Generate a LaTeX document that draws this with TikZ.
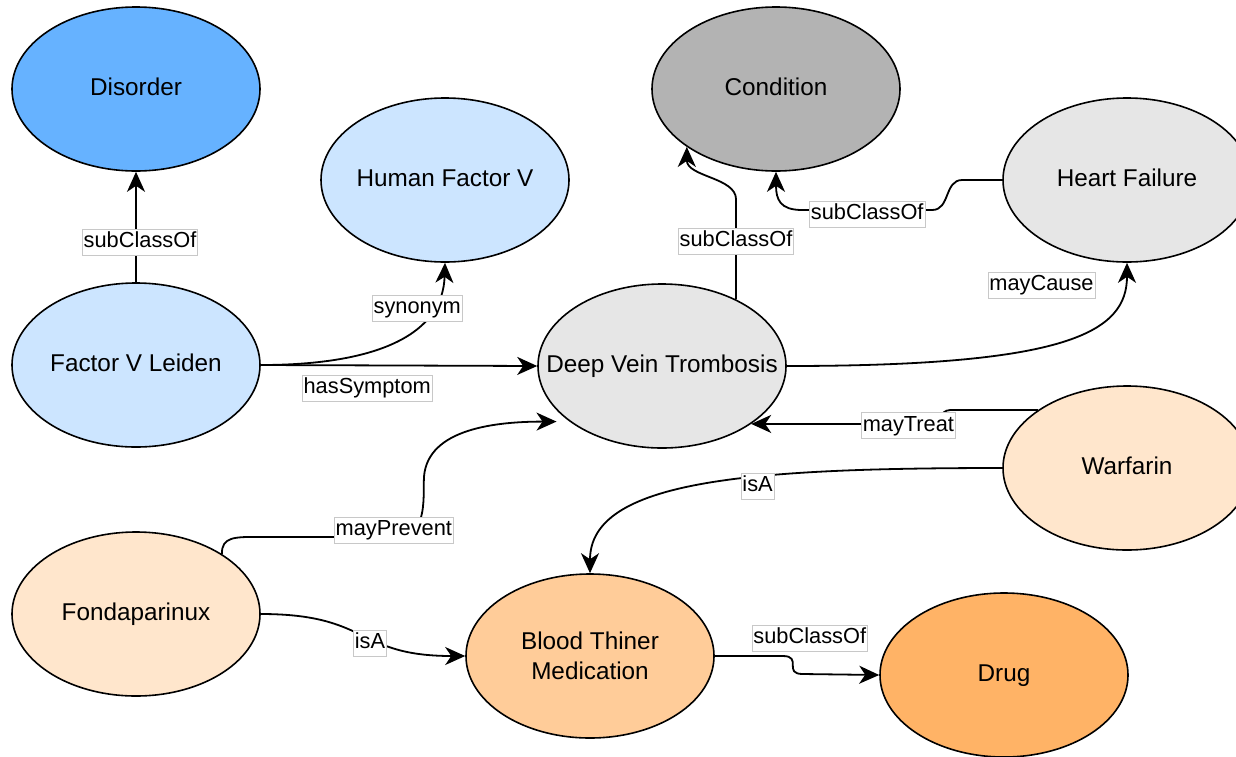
\documentclass[tikz,border=0pt]{standalone}
\usepackage{fontspec}
\setmainfont{Liberation Sans}
\usetikzlibrary{arrows.meta,shapes.geometric}

\definecolor{disorderBlue}{HTML}{66B2FF}
\definecolor{paleBlue}{HTML}{CCE5FF}
\definecolor{conditionGray}{HTML}{B3B3B3}
\definecolor{paleGray}{HTML}{E6E6E6}
\definecolor{palePeach}{HTML}{FFE6CC}
\definecolor{peach}{HTML}{FFCC99}
\definecolor{drugOrange}{HTML}{FFB366}
\definecolor{labelFrame}{HTML}{C8C8C8}

\tikzset{
  concept/.style={ellipse, draw=black, line width=1.6pt,
    minimum width=248pt, minimum height=164pt, inner sep=0pt,
    font=\fontsize{24.3}{30}\selectfont, align=center, text=black,
    text height=17.5pt, text depth=5pt},
  rel/.style={draw=black, line width=1.8pt,
    -{Stealth[length=20pt,width=18pt,inset=6pt]}},
  lbl/.style={fill=white, draw=labelFrame, line width=0.8pt,
    font=\fontsize{21.8}{24}\selectfont, text=black,
    inner xsep=1.5pt, inner ysep=3pt, text height=15.5pt, text depth=4.5pt}
}

\begin{document}
\begin{tikzpicture}[x=1pt,y=-1pt]
\useasboundingbox (0,0) rectangle (1236,756);
\clip (0,0) rectangle (1236,756);
\fill[white] (0,0) rectangle (1236,756);

% concepts
\node[concept, fill=disorderBlue]  (dis)  at (136,89)   {Disorder};
\node[concept, fill=paleBlue]      (hfv)  at (445,180)  {\makebox[0pt]{Human Factor V}};
\node[concept, fill=paleBlue]      (fvl)  at (136,365)  {\makebox[0pt]{Factor V Leiden}};
\node[concept, fill=paleGray]      (dvt)  at (662,366)  {\makebox[0pt]{Deep Vein Trombosis}};
\node[concept, fill=conditionGray] (cond) at (776,89)   {Condition};
\node[concept, fill=paleGray]      (hf)   at (1127,180) {Heart Failure};
\node[concept, fill=palePeach]     (war)  at (1127,468) {Warfarin};
\node[concept, fill=palePeach]     (fon)  at (136,614)  {Fondaparinux};
\node[concept, fill=peach, text height=, text depth=] (btm) at (590,656) {Blood Thiner\\Medication};
\node[concept, fill=drugOrange]    (drug) at (1004,675) {Drug};

% relations
\draw[rel] (fvl.north) -- node[lbl, pos=0.36, xshift=4pt] {subClassOf} (dis.south);

\draw[rel] (fvl.east) .. controls +(120,0) and +(-2,70) ..
  node[lbl, pos=0.75, xshift=-15pt] {synonym} (hfv.south);

\draw[rel] (fvl.east) -- node[lbl, pos=0.385, yshift=-23pt] {hasSymptom} (dvt.west);

\draw[rel] (dvt.42) -- node[lbl, pos=0.58] {subClassOf} ++(0,-100)
  .. controls +(0,-22) and +(0,30) .. (cond.213);

\draw[rel] (hf.west) -- ++(-40,0)
  .. controls +(-18,0) and +(18,0) .. ++(-30,30)
  -- node[lbl, midway, yshift=-4pt] {subClassOf} ++(-130,0)
  .. controls +(-22,0) and +(0,28) .. (cond.south);

\draw[rel] (dvt.east) .. controls +(280,0) and +(0,70) ..
  node[lbl, pos=0.8, xshift=-77pt, yshift=15pt] {mayCause} (hf.south);

\draw[rel] (war.147) -- ++(-88,0)
  .. controls +(-10,0) and +(10,0) .. ++(-20,14)
  -- node[lbl, pos=0.12, yshift=-1.5pt] {mayTreat} (dvt.-33);

\draw[rel] (war.west) .. controls +(-254,0) and +(0,-93) ..
  node[lbl, pos=0.38, yshift=-9pt] {isA} (btm.north);

\draw[rel, shorten >=13pt] (fon.35) .. controls +(0,-17) and +(-25,0) .. ++(37,-17)
  -- node[lbl, pos=1, yshift=7pt] {mayPrevent} ++(135,0)
  .. controls +(30,0) and +(0,30) .. ++(30,-56)
  .. controls +(0,-50) and +(-80,0) .. (dvt.211);

\draw[rel] (fon.east) .. controls +(110,0) and +(-110,0) ..
  node[lbl, pos=0.5, xshift=7pt, yshift=-8pt] {isA} (btm.west);

\draw[rel] (btm.east) -- ++(68,0)
  .. controls +(20,0) and +(-20,0) .. node[lbl, midway, xshift=17pt, yshift=27pt] {subClassOf} ++(20,18)
  -- (drug.west);
\end{tikzpicture}
\end{document}
